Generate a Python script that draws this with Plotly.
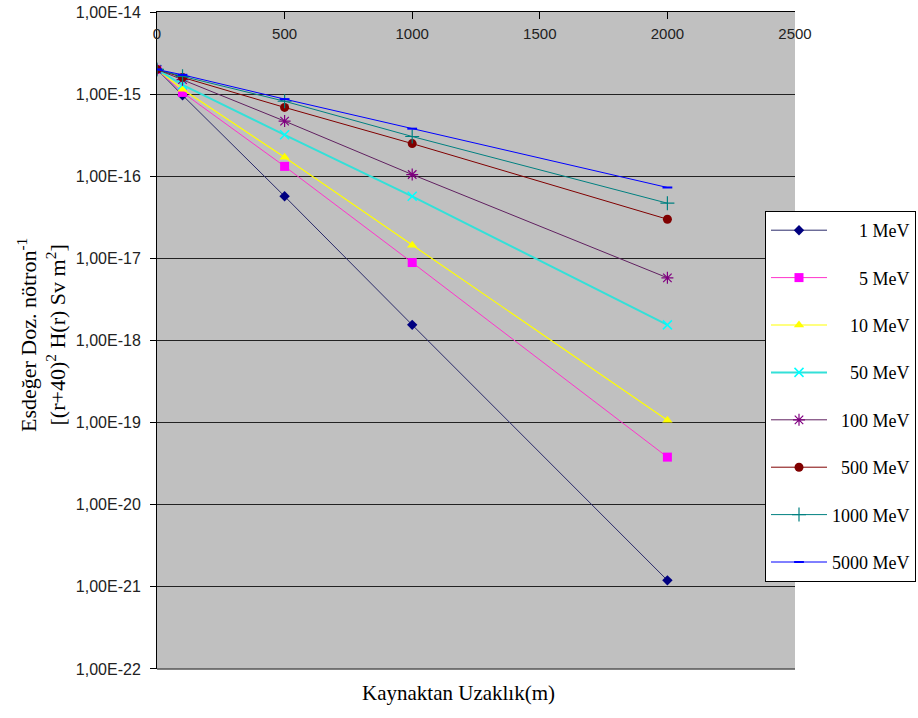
import plotly.graph_objects as go

distance_m = [0, 100, 500, 1000, 2000]
series_names = ["1 MeV", "5 MeV", "10 MeV", "50 MeV", "100 MeV", "500 MeV", "1000 MeV", "5000 MeV"]
v_1 = [2.0e-15, 9.7e-16, 5.7e-17, 1.55e-18, 1.2e-21]
v_5 = [2.0e-15, 1.05e-15, 1.32e-16, 8.9e-18, 3.8e-20]
v_10 = [2.0e-15, 1.15e-15, 1.7e-16, 1.45e-17, 1.07e-19]
v_50 = [2.0e-15, 1.3e-15, 3.2e-16, 5.7e-17, 1.55e-18]
v_100 = [2.0e-15, 1.5e-15, 4.7e-16, 1.05e-16, 5.8e-18]
v_500 = [2.0e-15, 1.6e-15, 6.9e-16, 2.5e-16, 3.0e-17]
v_1000 = [2.0e-15, 1.65e-15, 8.2e-16, 3.05e-16, 4.7e-17]
v_5000 = [2.0e-15, 1.72e-15, 8.7e-16, 3.8e-16, 7.3e-17]
all_values = [v_1, v_5, v_10, v_50, v_100, v_500, v_1000, v_5000]
y_tick_vals = [1e-14, 1e-15, 1e-16, 1e-17, 1e-18, 1e-19, 1e-20, 1e-21, 1e-22]
y_tick_text = ["1,00E-14", "1,00E-15", "1,00E-16", "1,00E-17", "1,00E-18",
               "1,00E-19", "1,00E-20", "1,00E-21", "1,00E-22"]
x_tick_vals = [0, 500, 1000, 1500, 2000, 2500]

styles = [
    dict(color="#000080", line="#2a2a6a", width=1, symbol="diamond", size=8, lw=0),
    dict(color="#FF00FF", line="#FF33CC", width=1, symbol="square", size=9, lw=0),
    dict(color="#FFFF00", line="#FFFF00", width=1.2, symbol="triangle-up", size=9, lw=0),
    dict(color="#00FFFF", line="#33E0D8", width=2, symbol="x-thin-open", size=9, lw=1.5),
    dict(color="#800080", line="#602060", width=1, symbol="asterisk-open", size=10, lw=1.2),
    dict(color="#800000", line="#800000", width=1, symbol="circle", size=9, lw=0),
    dict(color="#008080", line="#008080", width=1, symbol="cross-thin-open", size=10, lw=1.2),
    dict(color="#0000FF", line="#0000FF", width=1, symbol="line-ew-open", size=7, lw=2),
]

# right-align legend labels with non-breaking spaces
pad_counts = [6, 6, 4, 4, 2, 2, 0, 0]

fig = go.Figure()
for i, (name, vals, st) in enumerate(zip(series_names, all_values, styles)):
    fig.add_trace(go.Scatter(
        x=distance_m, y=vals, name="\u00a0" * pad_counts[i] + name, mode="lines+markers",
        legendgroup=f"g{i}",
        line=dict(color=st["line"], width=st["width"]),
        marker=dict(color=st["color"], symbol=st["symbol"], size=st["size"],
                    line=dict(color=st["color"], width=st["lw"])),
    ))

FW, FH = 918, 718
pl, pr, pt, pb = 157, 795, 12, 669
W, H = pr - pl, pb - pt

serif = "Times New Roman, Liberation Serif, serif"
sans = "Arial, Liberation Sans, sans-serif"

fig.update_layout(
    width=FW, height=FH,
    margin=dict(l=pl, r=FW - pr, t=pt, b=FH - pb, autoexpand=False),
    paper_bgcolor="white",
    plot_bgcolor="#C0C0C0",
    showlegend=True,
    legend=dict(
        x=(765 - pl) / W, y=(pb - 211) / H, xanchor="left", yanchor="top",
        bgcolor="white", bordercolor="black", borderwidth=1,
        font=dict(family=serif, size=18, color="black"),
        tracegroupgap=21, traceorder="grouped", itemwidth=56,
    ),
    xaxis=dict(
        side="top", range=[0, 2500], tickvals=x_tick_vals,
        ticks="inside", ticklen=7, tickcolor="black",
        ticklabelposition="inside", ticklabeloverflow="allow",
        ticklabelstandoff=9,
        showline=True, linecolor="black", linewidth=1,
        showgrid=False, zeroline=False, automargin=False,
        tickfont=dict(family=sans, size=15, color="#222"),
    ),
    yaxis=dict(
        type="log", range=[-22.0005, -13.9995], tickvals=y_tick_vals, ticktext=y_tick_text,
        ticks="outside", ticklen=6, tickcolor="black",
        ticklabelstandoff=6, ticklabeloverflow="allow",
        showline=True, linecolor="black", linewidth=1,
        showgrid=True, gridcolor="#222", gridwidth=1, zeroline=False, automargin=False,
        tickfont=dict(family=sans, size=16, color="#222"),
    ),
    annotations=[
        dict(text="Kaynaktan Uzaklık(m)", x=(458 - pl) / W, y=(pb - 693) / H,
             xref="paper", yref="paper", xanchor="center", yanchor="middle",
             showarrow=False, font=dict(family=serif, size=21, color="black")),
        dict(text="Esdeğer Doz. nötron<sup>-1</sup><br>[(r+40)<sup>2</sup> H(r) Sv m<sup>2</sup>]",
             x=(41 - pl) / W, y=(pb - 335) / H, xref="paper", yref="paper",
             xanchor="center", yanchor="middle",
             showarrow=False, textangle=-90,
             font=dict(family=serif, size=22, color="black")),
    ],
)

fig.add_shape(type="line", xref="paper", yref="paper", x0=0, x1=1, y0=0, y1=0,
              line=dict(color="#555", width=1.5))

# remove the default 8px page margin so the figure fills the window exactly
fig.write_html("out.html", config={"displayModeBar": False},
               post_script="document.body.style.margin='0px';document.body.style.overflow='hidden';")
